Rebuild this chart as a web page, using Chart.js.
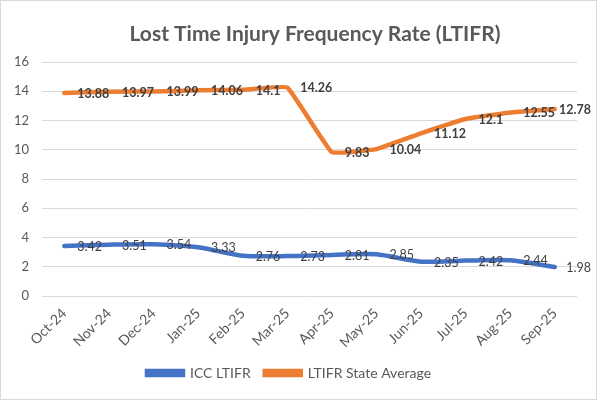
<!DOCTYPE html>
<html>
<head>
<meta charset="utf-8">
<script src="https://cdn.jsdelivr.net/npm/chart.js@4"></script>
<style>
  html, body { margin: 0; padding: 0; background: #fff; }
  #wrap {
    width: 597px; height: 400px;
    box-sizing: border-box;
    border: 1px solid #d9d9d9;
  }
</style>
</head>
<body>
<div id="wrap"><canvas id="ltifrChart"></canvas></div>
<script>
// Months along the x axis
const months = ['Oct-24', 'Nov-24', 'Dec-24', 'Jan-25', 'Feb-25', 'Mar-25',
                'Apr-25', 'May-25', 'Jun-25', 'Jul-25', 'Aug-25', 'Sep-25'];

// ICC LTIFR values
const iccValues = [3.42, 3.51, 3.54, 3.33, 2.76, 2.73, 2.81, 2.85, 2.35, 2.42, 2.44, 1.98];

// LTIFR State Average values
const stateValues = [13.88, 13.97, 13.99, 14.06, 14.1, 14.26, 9.83, 10.04, 11.12, 12.1, 12.55, 12.78];

// y axis ticks 0..16 step 2
const yTicks = [0, 2, 4, 6, 8, 10, 12, 14, 16];

const chartTitle = 'Lost Time Injury Frequency Rate (LTIFR)';

const FONT = 'Lato, "Open Sans", sans-serif';

// Excel style labels placed to the right of each point
const pointLabels = {
    id: 'pointLabels',
    afterDatasetsDraw(chart) {
        const ctx = chart.ctx;
        chart.data.datasets.forEach((ds, i) => {
            const meta = chart.getDatasetMeta(i);
            ctx.save();
            ctx.font = (ds.labelBold ? 'bold ' : '') + '12.5px ' + FONT;
            ctx.fillStyle = '#404040';
            ctx.textAlign = 'left';
            ctx.textBaseline = 'middle';
            meta.data.forEach((pt, j) => {
                const txt = String(ds.data[j]);
                const w = ctx.measureText(txt).width;
                let x = pt.x + 13;
                if (x + w > chart.width - 5) x = chart.width - 5 - w;
                ctx.fillText(txt, x, pt.y + 1);
            });
            ctx.restore();
        });
    }
};

// title drawn a bit right of centre, like the Excel original
const titlePlugin = {
    id: 'titlePlugin',
    afterDraw(chart) {
        const ctx = chart.ctx;
        ctx.save();
        ctx.font = 'bold 21px ' + FONT;
        ctx.fillStyle = '#595959';
        ctx.textAlign = 'center';
        ctx.textBaseline = 'middle';
        ctx.fillText(chartTitle, 314, 33);
        ctx.restore();
    }
};

const ctx = document.getElementById('ltifrChart').getContext('2d');
const ltifrChart = new Chart(ctx, {
    type: 'line',
    data: {
        labels: months,
        datasets: [
            {
                label: 'ICC LTIFR',
                data: iccValues,
                borderColor: '#4472C4',
                backgroundColor: '#4472C4',
                borderWidth: 4.5,
                borderCapStyle: 'round',
                pointRadius: 0,
                tension: 0.25,
                labelBold: false
            },
            {
                label: 'LTIFR State Average',
                data: stateValues,
                borderColor: '#ED7D31',
                backgroundColor: '#ED7D31',
                borderWidth: 4.5,
                borderCapStyle: 'round',
                pointRadius: 0,
                tension: 0.08,
                labelBold: true
            }
        ]
    },
    options: {
        responsive: true,
        maintainAspectRatio: false,
        animation: false,
        layout: {
            padding: { left: 0, right: 19, top: 61, bottom: 9 }
        },
        scales: {
            y: {
                min: 0,
                max: 16,
                afterBuildTicks: axis => { axis.ticks = yTicks.map(v => ({ value: v })); },
                border: { display: false },
                grid: { color: '#d9d9d9', lineWidth: 1, drawTicks: false },
                ticks: {
                    color: '#595959',
                    padding: 13,
                    font: { family: FONT, size: 13 }
                }
            },
            x: {
                offset: true,
                border: { display: false },
                grid: { display: false },
                ticks: {
                    color: '#595959',
                    maxRotation: 45,
                    minRotation: 45,
                    padding: 1,
                    font: { family: FONT, size: 14 }
                }
            }
        },
        plugins: {
            title: { display: false },
            legend: {
                position: 'bottom',
                labels: {
                    color: '#595959',
                    boxWidth: 36,
                    boxHeight: 4,
                    padding: 14,
                    font: { family: FONT, size: 14 }
                }
            },
            tooltip: { enabled: false }
        }
    },
    plugins: [pointLabels, titlePlugin]
});
</script>
</body>
</html>
